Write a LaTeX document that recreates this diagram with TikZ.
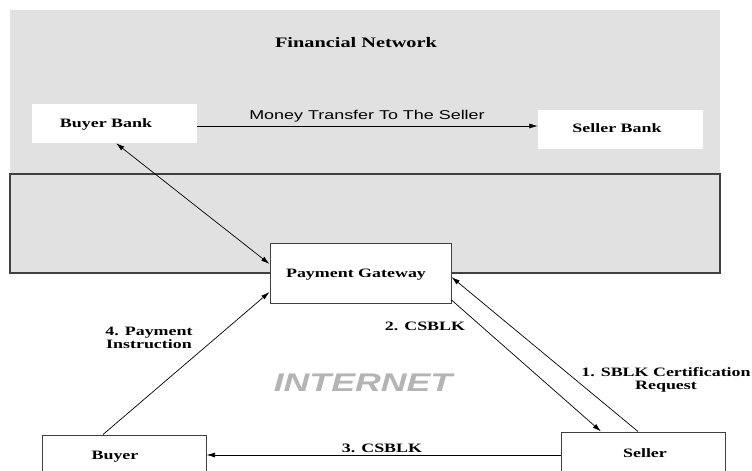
\documentclass[tikz,border=0pt]{standalone}
\usepackage{fontspec}
\setmainfont{Liberation Serif}[FakeStretch=1.4]
\newfontfamily\sansf{Liberation Sans}[FakeStretch=1.4]
\usetikzlibrary{arrows.meta}
\definecolor{netgray}{HTML}{E1E1E1}
\definecolor{bordergray}{HTML}{404040}
\definecolor{inetgray}{HTML}{B4B4B4}
\tikzset{
  lbl/.style={font=\fontsize{12.8}{13}\selectfont\bfseries, inner sep=0pt, align=center},
  wbox/.style={fill=white, inner sep=0pt},
  bbox/.style={wbox, draw=bordergray, line width=1pt},
  conn/.style={line width=0.7pt, -{Latex[length=8.5pt,width=5pt]}},
  biconn/.style={line width=0.7pt, {Latex[length=8.5pt,width=5pt]}-{Latex[length=8.5pt,width=5pt]}},
}
\begin{document}
\begin{tikzpicture}[x=1pt,y=-1pt]
\useasboundingbox (0,0) rectangle (752,471);
\clip (0,0) rectangle (752,471);
\fill[white] (0,0) rectangle (752,471);
% regions
\fill[netgray] (10,10) rectangle (720,174);
\draw[bordergray, line width=1.2pt, fill=netgray] (10,174) rectangle (720,273);
\node[lbl, font=\fontsize{14.5}{15}\selectfont\bfseries, anchor=base] (fn) at (356,47) {Financial Network};

% boxes
\node[wbox, minimum width=165pt, minimum height=39pt] (bb) at (114.5,123.5) {};
\node[lbl, anchor=base] (bbt) at (106,127) {Buyer Bank};
\node[wbox, minimum width=165pt, minimum height=39pt] (sb) at (620.5,129.5) {};
\node[lbl, anchor=base] (sbt) at (617,132) {Seller Bank};
\node[bbox, minimum width=181pt, minimum height=60pt] (pg) at (360.5,273) {};
\node[lbl, anchor=base] (pgt) at (356,277) {Payment Gateway};
\node[bbox, minimum width=164pt, minimum height=40pt] (buyer) at (124,455) {};
\node[lbl, anchor=base] (buyert) at (115,459) {Buyer};
\node[bbox, minimum width=164pt, minimum height=42pt] (seller) at (643,453) {};
\node[lbl, anchor=base] (sellert) at (645,457) {Seller};

% texts
\node[inner sep=0pt, anchor=base, font=\sansf\fontsize{12.8}{13}\selectfont] (mt) at (367,119.5) {Money Transfer To The Seller};
\node[inner sep=0pt, anchor=base, text=inetgray, font=\sansf\fontsize{25.5}{27}\selectfont\bfseries\itshape] (inet) at (363,391) {INTERNET};
\node[lbl] (l4) at (149,337.5) {4. Payment\\Instruction};
\node[lbl] (l1) at (666,380) {1. SBLK Certification\\Request};
\node[lbl, anchor=base] (l2) at (425,330) {2. CSBLK};
\node[lbl, anchor=base] (l3) at (382,452) {3. CSBLK};

% connectors
\draw[conn] ([yshift=-2.5pt]bb.east) -- ([yshift=-2.5pt]bb.east -| sb.west);
\draw[biconn] ([xshift=1.5pt]bb.south) -- ([yshift=9pt]pg.west);
\draw[conn] ([xshift=-21pt]buyer.north) -- ([yshift=-19pt]pg.west);
\draw[conn] ([xshift=-5pt]seller.north) -- ([yshift=-4pt]pg.east);
\draw[conn] ([yshift=-27pt]pg.east) -- ([xshift=-42pt]seller.north);
\draw[conn] (seller.west |- buyer.east) -- (buyer.east);
\end{tikzpicture}
\end{document}
